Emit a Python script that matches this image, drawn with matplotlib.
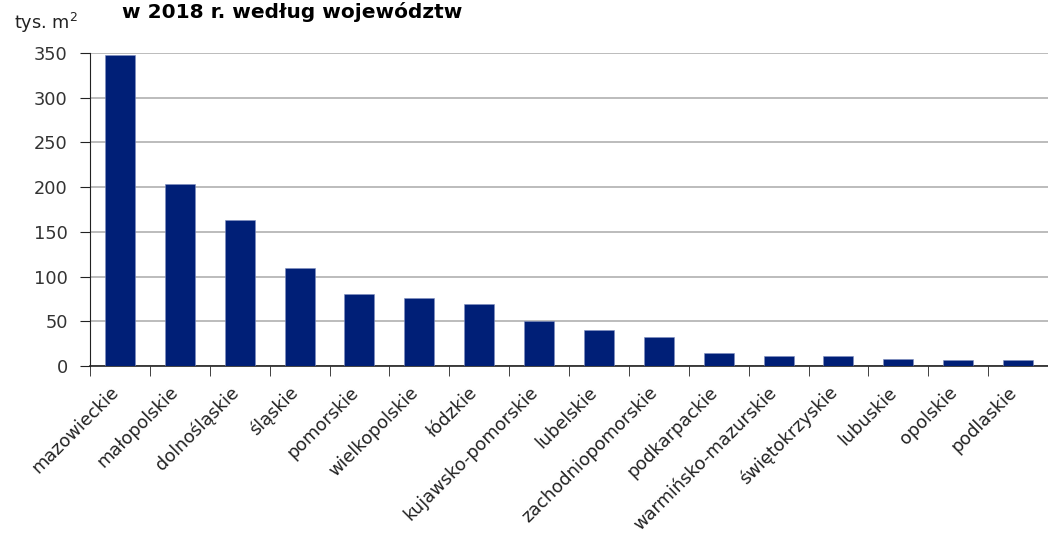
import numpy as np
import matplotlib.pyplot as plt
from matplotlib.transforms import ScaledTranslation

voivodeships = ["mazowieckie", "małopolskie", "dolnośląskie", "śląskie", "pomorskie",
                "wielkopolskie", "łódzkie", "kujawsko-pomorskie", "lubelskie",
                "zachodniopomorskie", "podkarpackie", "warmińsko-mazurskie",
                "świętokrzyskie", "lubuskie", "opolskie", "podlaskie"]
area = [348, 203, 163, 110, 80, 76, 69, 50, 40, 32, 14, 11, 11, 8, 7, 7]
yticks = [0, 50, 100, 150, 200, 250, 300, 350]

fig = plt.figure(figsize=(10.48, 5.37), dpi=100)
ax = fig.add_axes([0.0859, 0.3184, 0.9141, 0.5829])

x = np.arange(len(voivodeships))
ax.bar(x, area, width=0.5, color="#001f77", edgecolor="#7f8fc0", linewidth=0.4, zorder=3)

ax.set_xlim(-0.5, len(voivodeships) - 0.5)
ax.set_ylim(0, 350)
ax.set_yticks(yticks)
ax.yaxis.grid(True, color="#b0b0b0", linewidth=1.2, zorder=0)
ax.tick_params(axis="y", labelsize=12.8, length=7, direction="out", color="#222222",
               pad=9, labelcolor="#333333")

ax.set_xticks(x)
ax.set_xticklabels(voivodeships, rotation=45, ha="right", va="center",
                   rotation_mode="anchor", fontsize=12.8, color="#222222")
ax.tick_params(axis="x", which="major", length=0, pad=17)
# shift the rotated labels a little to the left
for lab in ax.get_xticklabels():
    lab.set_transform(lab.get_transform() + ScaledTranslation(-0.04, 0, fig.dpi_scale_trans))
ax.set_xticks(np.arange(len(voivodeships)) - 0.5, minor=True)
ax.tick_params(axis="x", which="minor", length=7, direction="out", color="#222222")

for s in ["top", "right"]:
    ax.spines[s].set_visible(False)
ax.spines["left"].set_color("#222222")
ax.spines["bottom"].set_color("#222222")
ax.spines["bottom"].set_linewidth(1.2)

fig.text(0.013, 0.958, "tys. m$^2$", fontsize=12.8, va="center", ha="left", color="#222222")
fig.text(0.116, 0.977, "w 2018 r. według województw", fontsize=14.5, fontweight="bold",
         va="center", ha="left")

fig.savefig("out.png", dpi=100)
